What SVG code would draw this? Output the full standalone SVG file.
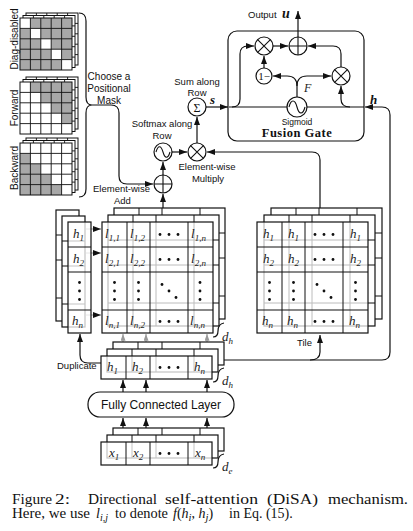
<svg xmlns="http://www.w3.org/2000/svg" xmlns:xlink="http://www.w3.org/1999/xlink" width="413" height="531" viewBox="0 0 413 531">
<style>
.ln{fill:none;stroke:#111;stroke-width:1.2}
.lg{fill:none;stroke:#9a9a9a;stroke-width:1}
.sans{font-family:"Liberation Sans",Arial,sans-serif;fill:#111}
.serif{font-family:"Liberation Serif","Times New Roman",serif;fill:#111}
.mi{font-family:"Liberation Serif","Times New Roman",serif;font-style:italic;fill:#222}
.bmi{font-family:"Liberation Serif","Times New Roman",serif;font-style:italic;font-weight:bold;fill:#111}
.op{fill:#fff;stroke:#111;stroke-width:1.2}
.sym{fill:none;stroke:#111;stroke-width:1.1}
.cap{font-family:"Liberation Serif","Times New Roman",serif;font-size:14px;fill:#111}
</style>
<defs>
<marker id="ah" viewBox="0 0 8 6" refX="8" refY="3" markerWidth="8" markerHeight="6" markerUnits="userSpaceOnUse" orient="auto"><path d="M0,0 L8,3 L0,6 z" fill="#111"/></marker>
<marker id="ahg" viewBox="0 0 8 6" refX="8" refY="3" markerWidth="7" markerHeight="5" markerUnits="userSpaceOnUse" orient="auto"><path d="M0,0 L8,3 L0,6 z" fill="#999"/></marker>
<g id="g4"><rect width="111" height="111" stroke="#111" stroke-width="1.2"/><path d="M25,0V111M48,0V111M86,0V111M0,25H111M0,50H111M0,88H111" fill="none" stroke="#111" stroke-width="1"/></g>
<g id="gcol"><rect width="23" height="111" stroke="#111" stroke-width="1.2"/><path d="M0,25H23M0,50H23M0,88H23" fill="none" stroke="#111" stroke-width="1"/></g>
<g id="grow"><rect width="111" height="23" stroke="#111" stroke-width="1.2"/><path d="M25,0V23M49,0V23M87,0V23" fill="none" stroke="#111" stroke-width="1"/></g>
<g id="m5"><rect width="52" height="52" stroke="#111" stroke-width="1"/><path d="M10.4,0V52M20.8,0V52M31.2,0V52M41.6,0V52M0,10.4H52M0,20.8H52M0,31.2H52M0,41.6H52" fill="none" stroke="#111" stroke-width="0.9"/></g>
<g id="hd" fill="#111"><circle cx="-9" cy="0" r="1.4"/><circle cx="0" cy="0" r="1.4"/><circle cx="9" cy="0" r="1.4"/></g>
<g id="vd" fill="#111"><circle cx="0" cy="-8.5" r="1.4"/><circle cx="0" cy="0" r="1.4"/><circle cx="0" cy="8.5" r="1.4"/></g>
<g id="dd" fill="#111"><circle cx="-7" cy="-6.5" r="1.4"/><circle cx="0" cy="0" r="1.4"/><circle cx="7" cy="6.5" r="1.4"/></g>
</defs>

<!-- Positional masks -->
<g id="mask-diag">
<use xlink:href="#m5" href="#m5" x="26" y="13" fill="#fff"/>
<use xlink:href="#m5" href="#m5" x="23" y="15.5" fill="#fff"/>
<rect x="20" y="18" width="52" height="52" fill="#a8a8a8"/>
<path d="M20,18h10.4v10.4h-10.4z M30.4,28.4h10.4v10.4h-10.4z M40.8,38.8h10.4v10.4h-10.4z M51.2,49.2h10.4v10.4h-10.4z M61.6,59.6h10.4v10.4h-10.4z" fill="#fff"/>
<use xlink:href="#m5" href="#m5" x="20" y="18" fill="none"/>
<text class="sans" font-size="10" text-anchor="middle" transform="translate(18,39) rotate(-90)">Diag-disabled</text>
</g>
<g id="mask-forward">
<use xlink:href="#m5" href="#m5" x="26" y="77" fill="#fff"/>
<use xlink:href="#m5" href="#m5" x="23" y="79.5" fill="#fff"/>
<rect x="20" y="82" width="52" height="52" fill="#fff"/>
<path transform="translate(20,82)" d="M10.4,0 H52 V41.6 H41.6 V31.2 H31.2 V20.8 H20.8 V10.4 H10.4 Z" fill="#a8a8a8"/>
<use xlink:href="#m5" href="#m5" x="20" y="82" fill="none"/>
<text class="sans" font-size="10" text-anchor="middle" transform="translate(18,108) rotate(-90)">Forward</text>
</g>
<g id="mask-backward">
<use xlink:href="#m5" href="#m5" x="26" y="138" fill="#fff"/>
<use xlink:href="#m5" href="#m5" x="23" y="140.5" fill="#fff"/>
<rect x="20" y="143" width="52" height="52" fill="#fff"/>
<path transform="translate(20,143)" d="M0,10.4 H10.4 V20.8 H20.8 V31.2 H31.2 V41.6 H41.6 V52 H0 Z" fill="#a8a8a8"/>
<use xlink:href="#m5" href="#m5" x="20" y="143" fill="none"/>
<text class="sans" font-size="10" text-anchor="middle" transform="translate(18,168) rotate(-90)">Backward</text>
</g>
<g id="choose-mask">
<path class="ln" d="M79,13 Q86,13 86,21 V97 Q86,105 92,105 Q86,105 86,113 V189 Q86,197 79,197"/>
<text class="sans" font-size="10" text-anchor="middle"><tspan x="109" y="80">Choose a</tspan><tspan x="109" y="92">Positional</tspan><tspan x="109" y="104">Mask</tspan></text>
</g>

<!-- Connectors -->
<g id="connectors">
<path class="ln" d="M92,105 H111 Q119,105 119,113 V176 Q119,184 127,184 H153" marker-end="url(#ah)"/>
<path class="ln" d="M163,208 V194" marker-end="url(#ah)"/>
<path class="ln" d="M163,175 V162" marker-end="url(#ah)"/>
<path class="ln" d="M172,152 H187" marker-end="url(#ah)"/>
<path class="ln" d="M197,143 V117" marker-end="url(#ah)"/>
<path class="ln" d="M206,107 H228" marker-end="url(#ah)"/>
<path class="ln" d="M224,360 H382 Q390,360 390,352 V115 Q390,107 382,107 H365" marker-end="url(#ah)"/>
<path class="ln" d="M310,360 Q320,360 320,352 V335" marker-end="url(#ah)"/>
<path class="ln" d="M320,208 V160 Q320,152 312,152 H207" marker-end="url(#ah)"/>
<path class="ln" d="M101,363 H88 Q80,363 80,355 V334" marker-end="url(#ah)"/>
<path class="ln" d="M123,392 V380" marker-end="url(#ah)"/>
<path class="ln" d="M146,392 V380" marker-end="url(#ah)"/>
<path class="ln" d="M207,392 V380" marker-end="url(#ah)"/>
<path class="ln" d="M123,428 V418" marker-end="url(#ah)"/>
<path class="ln" d="M146,428 V418" marker-end="url(#ah)"/>
<path class="ln" d="M207,428 V418" marker-end="url(#ah)"/>
<path class="lg" d="M123,350 V334" marker-end="url(#ahg)"/>
<path class="lg" d="M146,350 V334" marker-end="url(#ahg)"/>
<path class="lg" d="M207,350 V334" marker-end="url(#ahg)"/>
<path class="lg" d="M86,229 H101" marker-end="url(#ah)"/>
<path class="lg" d="M86,253 H101" marker-end="url(#ah)"/>
<path class="lg" d="M86,315 H101" marker-end="url(#ah)"/>
<!-- inside fusion gate -->
<path class="ln" d="M229,107 H364"/>
<path class="ln" d="M232,107 Q240,107 240,99 V54 Q240,46 248,46 H254" marker-end="url(#ah)"/>
<path class="ln" d="M273,46 H288" marker-end="url(#ah)"/>
<path class="ln" d="M264,68 V56" marker-end="url(#ah)"/>
<path class="ln" d="M297,97 V86 Q297,76 287,76 H273" marker-end="url(#ah)"/>
<path class="ln" d="M297,86 Q297,76 307,76 H331" marker-end="url(#ah)"/>
<path class="ln" d="M350,107 Q341,107 341,99 V86" marker-end="url(#ah)"/>
<path class="ln" d="M341,67 V54 Q341,46 333,46 H308" marker-end="url(#ah)"/>
<path class="ln" d="M298,37 V11" marker-end="url(#ah)"/>
</g>

<!-- operator nodes -->
<g id="add">
<circle class="op" cx="163" cy="184" r="9"/>
<path class="sym" d="M154,184 H172 M163,175 V193"/>
<text class="sans" font-size="9.5" x="93" y="192">Element-wise</text>
<text class="sans" font-size="9.5" x="114" y="204">Add</text>
</g>
<g id="softmax">
<circle class="op" cx="163" cy="152" r="9"/>
<path class="sym" d="M156,152 C158,145 161,145 163,152 C165,159 168,159 170,152"/>
<text class="sans" font-size="9.5" text-anchor="middle" x="162" y="127">Softmax along</text>
<text class="sans" font-size="9.5" text-anchor="middle" x="162" y="139">Row</text>
</g>
<g id="multiply">
<circle class="op" cx="197" cy="152" r="9"/>
<path class="sym" d="M190.6,145.6 L203.4,158.4 M203.4,145.6 L190.6,158.4"/>
<text class="sans" font-size="9.5" text-anchor="middle" x="207" y="170">Element-wise</text>
<text class="sans" font-size="9.5" text-anchor="middle" x="208" y="182">Multiply</text>
</g>
<g id="sum">
<circle class="op" cx="197" cy="107" r="9"/>
<text class="serif" font-size="12" text-anchor="middle" x="197" y="111.5">Σ</text>
<text class="sans" font-size="9.5" text-anchor="middle" x="197" y="85">Sum along</text>
<text class="sans" font-size="9.5" text-anchor="middle" x="197" y="96">Row</text>
<text class="bmi" font-size="13" x="210" y="104">s</text>
</g>

<!-- Fusion gate -->
<g id="fusion-gate">
<rect x="228" y="31" width="136" height="110" rx="9" fill="none" stroke="#111" stroke-width="1.2"/>
<text class="serif" font-size="12.5" font-weight="bold" text-anchor="middle" x="297" y="137" letter-spacing="0.5">Fusion Gate</text>
<circle class="op" cx="297" cy="107" r="10"/>
<path class="sym" d="M289,107 C291,99 295,99 297,107 C299,115 303,115 305,107"/>
<text class="sans" font-size="8.5" text-anchor="middle" x="297" y="125">Sigmoid</text>
<text class="mi" font-size="12" x="304" y="92">F</text>
<circle class="op" cx="264" cy="46" r="9"/>
<path class="sym" d="M257.6,39.6 L270.4,52.4 M270.4,39.6 L257.6,52.4"/>
<circle class="op" cx="298" cy="46" r="9"/>
<path class="sym" d="M289,46 H307 M298,37 V55"/>
<circle class="op" cx="264" cy="76" r="8"/>
<text class="serif" font-size="11" text-anchor="middle" x="264" y="80">1−</text>
<circle class="op" cx="341" cy="76" r="9"/>
<path class="sym" d="M334.6,69.6 L347.4,82.4 M347.4,69.6 L334.6,82.4"/>
</g>
<g id="output">
<text class="sans" font-size="9.5" x="248" y="18">Output</text>
<text class="bmi" font-size="14" x="282" y="18">u</text>
</g>
<g id="h-label"><text class="bmi" font-size="13" x="370" y="104">h</text></g>

<!-- Duplicated h column -->
<g id="h-column">
<use xlink:href="#gcol" href="#gcol" x="56" y="210" fill="#fff"/>
<use xlink:href="#gcol" href="#gcol" x="62" y="216" fill="#fff"/>
<use xlink:href="#gcol" href="#gcol" x="68" y="222" fill="#fff" fill-opacity="0.75"/>
<text class="mi" font-size="13" x="73" y="238">h<tspan font-size="9" dy="2.5">1</tspan></text>
<text class="mi" font-size="13" x="73" y="263">h<tspan font-size="9" dy="2.5">2</tspan></text>
<use xlink:href="#vd" href="#vd" x="79.5" y="291"/>
<text class="mi" font-size="13" x="72" y="325">h<tspan font-size="9" dy="2.5">n</tspan></text>
</g>

<!-- l grid -->
<g id="l-grid">
<use xlink:href="#g4" href="#g4" x="114" y="208" fill="#fff"/>
<use xlink:href="#g4" href="#g4" x="108" y="215" fill="#fff"/>
<use xlink:href="#g4" href="#g4" x="102" y="222" fill="#fff" fill-opacity="0.72"/>
<text class="mi" font-size="13" x="105" y="238">l<tspan font-size="9" dy="2.5">1,1</tspan></text>
<text class="mi" font-size="13" x="130" y="238">l<tspan font-size="9" dy="2.5">1,2</tspan></text>
<use xlink:href="#hd" href="#hd" x="169" y="234.5"/>
<text class="mi" font-size="13" x="191" y="238">l<tspan font-size="9" dy="2.5">1,n</tspan></text>
<text class="mi" font-size="13" x="105" y="263">l<tspan font-size="9" dy="2.5">2,1</tspan></text>
<text class="mi" font-size="13" x="130" y="263">l<tspan font-size="9" dy="2.5">2,2</tspan></text>
<use xlink:href="#hd" href="#hd" x="169" y="259.5"/>
<text class="mi" font-size="13" x="191" y="263">l<tspan font-size="9" dy="2.5">2,n</tspan></text>
<use xlink:href="#vd" href="#vd" x="114.5" y="291"/>
<use xlink:href="#vd" href="#vd" x="138.5" y="291"/>
<use xlink:href="#dd" href="#dd" x="169" y="291"/>
<use xlink:href="#vd" href="#vd" x="200" y="291"/>
<text class="mi" font-size="13" x="105" y="325">l<tspan font-size="9" dy="2.5">n,1</tspan></text>
<text class="mi" font-size="13" x="130" y="325">l<tspan font-size="9" dy="2.5">n,2</tspan></text>
<use xlink:href="#hd" href="#hd" x="169" y="321.5"/>
<text class="mi" font-size="13" x="190" y="325">l<tspan font-size="9" dy="2.5">n,n</tspan></text>
<path class="ln" d="M213,337 Q218,337 218,331 Q218,324 224,323" stroke-width="1"/>
<text class="mi" font-size="13" x="222" y="341">d<tspan font-size="9" dy="2.5">h</tspan></text>
</g>

<!-- Tiled h grid -->
<g id="tile-grid">
<use xlink:href="#g4" href="#g4" x="271" y="208" fill="#fff"/>
<use xlink:href="#g4" href="#g4" x="264" y="215" fill="#fff"/>
<use xlink:href="#g4" href="#g4" x="257" y="222" fill="#fff" fill-opacity="0.72"/>
<text class="mi" font-size="13" x="263" y="238">h<tspan font-size="9" dy="2.5">1</tspan></text>
<text class="mi" font-size="13" x="288" y="238">h<tspan font-size="9" dy="2.5">1</tspan></text>
<use xlink:href="#hd" href="#hd" x="324" y="234.5"/>
<text class="mi" font-size="13" x="350" y="238">h<tspan font-size="9" dy="2.5">1</tspan></text>
<text class="mi" font-size="13" x="263" y="263">h<tspan font-size="9" dy="2.5">2</tspan></text>
<text class="mi" font-size="13" x="288" y="263">h<tspan font-size="9" dy="2.5">2</tspan></text>
<use xlink:href="#hd" href="#hd" x="324" y="259.5"/>
<text class="mi" font-size="13" x="350" y="263">h<tspan font-size="9" dy="2.5">2</tspan></text>
<use xlink:href="#vd" href="#vd" x="269.5" y="291"/>
<use xlink:href="#vd" href="#vd" x="293.5" y="291"/>
<use xlink:href="#dd" href="#dd" x="324" y="291"/>
<use xlink:href="#vd" href="#vd" x="355.5" y="291"/>
<text class="mi" font-size="13" x="262" y="325">h<tspan font-size="9" dy="2.5">n</tspan></text>
<text class="mi" font-size="13" x="287" y="325">h<tspan font-size="9" dy="2.5">n</tspan></text>
<use xlink:href="#hd" href="#hd" x="324" y="321.5"/>
<text class="mi" font-size="13" x="349" y="325">h<tspan font-size="9" dy="2.5">n</tspan></text>
<text class="sans" font-size="9.5" x="297" y="346">Tile</text>
</g>

<!-- h row -->
<g id="h-row">
<use xlink:href="#grow" href="#grow" x="113" y="342" fill="#fff"/>
<use xlink:href="#grow" href="#grow" x="107" y="349" fill="#fff"/>
<use xlink:href="#grow" href="#grow" x="101" y="356" fill="#fff" fill-opacity="0.75"/>
<text class="mi" font-size="13" x="107" y="371">h<tspan font-size="9" dy="2.5">1</tspan></text>
<text class="mi" font-size="13" x="132" y="371">h<tspan font-size="9" dy="2.5">2</tspan></text>
<use xlink:href="#hd" href="#hd" x="169" y="367.5"/>
<text class="mi" font-size="13" x="194" y="371">h<tspan font-size="9" dy="2.5">n</tspan></text>
<text class="sans" font-size="9.5" x="57" y="369">Duplicate</text>
<path class="ln" d="M213,382 Q218,382 218,376 Q218,369 224,368" stroke-width="1"/>
<text class="mi" font-size="13" x="222" y="385">d<tspan font-size="9" dy="2.5">h</tspan></text>
</g>

<!-- Fully connected layer -->
<g id="fc-layer">
<rect x="88" y="392" width="146" height="25" rx="12" fill="#fff" stroke="#111" stroke-width="1.2"/>
<text class="sans" font-size="12" text-anchor="middle" x="161" y="409">Fully Connected Layer</text>
</g>

<!-- x row -->
<g id="x-row">
<use xlink:href="#grow" href="#grow" x="113" y="428" fill="#fff"/>
<use xlink:href="#grow" href="#grow" x="107" y="435" fill="#fff"/>
<use xlink:href="#grow" href="#grow" x="101" y="442" fill="#fff" fill-opacity="0.75"/>
<text class="mi" font-size="13" x="109" y="457">x<tspan font-size="9" dy="2.5">1</tspan></text>
<text class="mi" font-size="13" x="133" y="457">x<tspan font-size="9" dy="2.5">2</tspan></text>
<use xlink:href="#hd" href="#hd" x="169" y="453.5"/>
<text class="mi" font-size="13" x="195" y="457">x<tspan font-size="9" dy="2.5">n</tspan></text>
<path class="ln" d="M213,468 Q218,468 218,462 Q218,455 224,454" stroke-width="1"/>
<text class="mi" font-size="13" x="222" y="471">d<tspan font-size="9" dy="2.5">e</tspan></text>
</g>

<!-- caption -->
<g id="caption">
<text class="cap" x="12" y="504" textLength="40" lengthAdjust="spacingAndGlyphs">Figure</text>
<text class="cap" x="55" y="504" textLength="15" lengthAdjust="spacingAndGlyphs">2:</text>
<text class="cap" x="88" y="504" textLength="69" lengthAdjust="spacingAndGlyphs">Directional</text>
<text class="cap" x="165" y="504" textLength="93" lengthAdjust="spacingAndGlyphs">self-attention</text>
<text class="cap" x="267" y="504" textLength="51" lengthAdjust="spacingAndGlyphs">(DiSA)</text>
<text class="cap" x="328" y="504" textLength="80" lengthAdjust="spacingAndGlyphs">mechanism.</text>
<text class="cap" x="12" y="518" textLength="78" lengthAdjust="spacingAndGlyphs">Here, we use</text>
<text class="cap" x="96" y="518" font-style="italic">l<tspan font-size="10" dy="2.5">i,j</tspan></text>
<text class="cap" x="115" y="518" textLength="53" lengthAdjust="spacingAndGlyphs">to denote</text>
<text class="cap" x="173" y="518" font-size="15"><tspan font-style="italic">f</tspan>(<tspan font-style="italic">h</tspan><tspan font-style="italic" font-size="10.5" dy="2.5">i</tspan><tspan dy="-2.5">, </tspan><tspan font-style="italic">h</tspan><tspan font-style="italic" font-size="10.5" dy="2.5">j</tspan><tspan dy="-2.5">)</tspan></text>
<text class="cap" x="229" y="518">in Eq. (15).</text>
</g>
</svg>
